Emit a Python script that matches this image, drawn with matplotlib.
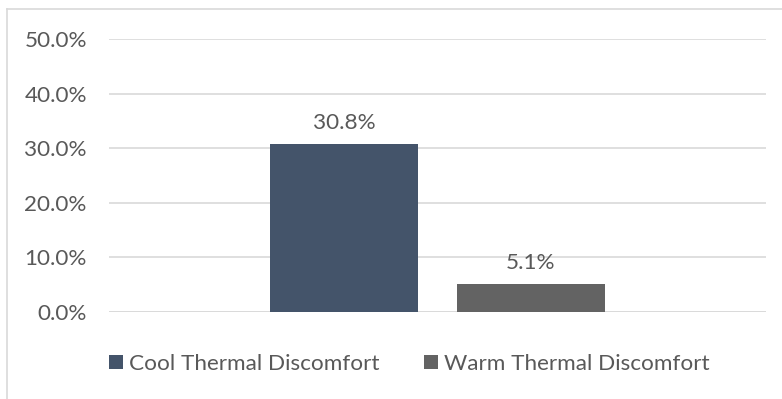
import matplotlib

matplotlib.use("Agg")

import matplotlib.pyplot as plt
from matplotlib.lines import Line2D
from matplotlib.patches import Patch

series = ["Cool Thermal Discomfort", "Warm Thermal Discomfort"]
values = [0.308, 0.051]
colors = ["#44546A", "#636363"]
yticks = [0.0, 0.1, 0.2, 0.3, 0.4, 0.5]

plt.rcParams["font.family"] = ["Lato", "DejaVu Sans"]
text_color = "#595959"
fsize = 16.2

fig = plt.figure(figsize=(7.82, 3.99), dpi=100)
ax = fig.add_axes([109 / 782, 87 / 399, 657 / 782, 273 / 399])

bar_width = 148 / 657
offsets = [-0.1423, 0.1423]

for name, value, color, off in zip(series, values, colors, offsets):
    bars = ax.bar(off, value, width=bar_width, color=color, label=name, zorder=3)
    ax.bar_label(
        bars,
        labels=[f"{value * 100:.1f}%"],
        padding=8,
        fontsize=fsize,
        color=text_color,
    )

ax.set_xlim(-0.5, 0.5)
ax.set_ylim(0, 0.5)
ax.set_yticks(yticks)
ax.set_yticklabels([f"{t * 100:.1f}%" for t in yticks], fontsize=fsize, color=text_color)
ax.set_xticks([])
ax.tick_params(axis="y", length=0, pad=16)
ax.yaxis.grid(True, color="#D9D9D9", linewidth=1.2, zorder=0)
for spine in ax.spines.values():
    spine.set_visible(False)
ax.axhline(0, color="#D9D9D9", linewidth=1.2, zorder=2)

handles = [Patch(facecolor=c, edgecolor="none") for c in colors]
fig.legend(
    handles,
    series,
    loc="center",
    bbox_to_anchor=(409.5 / 782, 1 - 364 / 399),
    ncol=2,
    frameon=False,
    fontsize=fsize,
    labelcolor=text_color,
    handlelength=0.62,
    handleheight=0.62,
    handletextpad=0.25,
    columnspacing=2.0,
)

# chart area border (only top and left visible in the crop)
fig.add_artist(Line2D([7 / 782, 7 / 782], [0, 1 - 9 / 399], transform=fig.transFigure,
                      color="#D9D9D9", linewidth=1.2))
fig.add_artist(Line2D([7 / 782, 1], [1 - 9 / 399, 1 - 9 / 399], transform=fig.transFigure,
                      color="#D9D9D9", linewidth=1.2))

fig.savefig("out.png", dpi=100)
plt.close(fig)
